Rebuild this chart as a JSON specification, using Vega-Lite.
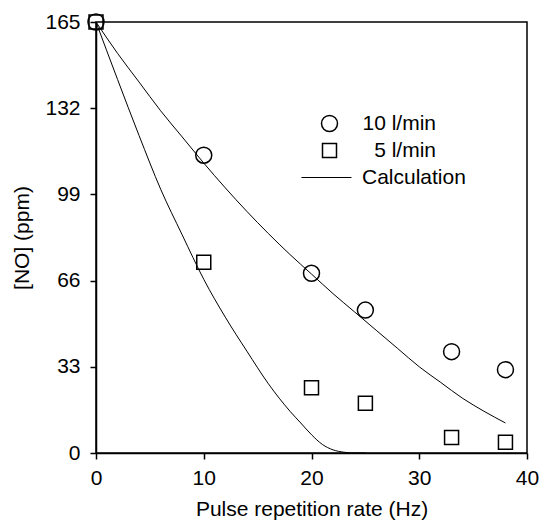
{
  "$schema": "https://vega.github.io/schema/vega-lite/v6.json",
  "width": 431,
  "height": 431,
  "autosize": {"type": "none"},
  "padding": {"left": 96, "top": 22, "right": 12, "bottom": 72},
  "background": "white",
  "config": {
    "view": {"stroke": "black", "strokeWidth": 1.5},
    "font": "Liberation Sans",
    "axis": {
      "domainColor": "black", "domainWidth": 1.5,
      "tickColor": "black", "tickWidth": 1.5, "tickSize": 6,
      "labelFont": "Liberation Sans", "labelFontSize": 21, "labelColor": "black", "labelFlush": false,
      "titleFont": "Liberation Sans", "titleFontSize": 21, "titleFontWeight": "normal", "titleColor": "black",
      "grid": false
    },
    "legend": {
      "labelFont": "Liberation Sans", "labelFontSize": 21, "labelColor": "black"
    }
  },
  "datasets": {
    "points": [
      {"rate": 0, "no": 165, "series": "10 l/min"},
      {"rate": 10, "no": 114, "series": "10 l/min"},
      {"rate": 20, "no": 68.8, "series": "10 l/min"},
      {"rate": 25, "no": 54.7, "series": "10 l/min"},
      {"rate": 33, "no": 38.8, "series": "10 l/min"},
      {"rate": 38, "no": 31.9, "series": "10 l/min"},
      {"rate": 0, "no": 165, "series": "5 l/min"},
      {"rate": 10, "no": 73, "series": "5 l/min"},
      {"rate": 20, "no": 25, "series": "5 l/min"},
      {"rate": 25, "no": 19, "series": "5 l/min"},
      {"rate": 33, "no": 5.9, "series": "5 l/min"},
      {"rate": 38, "no": 4.1, "series": "5 l/min"}
    ],
    "curves": [
      {"rate": 0, "no": 165, "curve": "10 l/min"},
      {"rate": 2, "no": 153, "curve": "10 l/min"},
      {"rate": 4, "no": 142, "curve": "10 l/min"},
      {"rate": 6, "no": 131, "curve": "10 l/min"},
      {"rate": 8, "no": 121, "curve": "10 l/min"},
      {"rate": 10, "no": 111, "curve": "10 l/min"},
      {"rate": 12, "no": 101.5, "curve": "10 l/min"},
      {"rate": 14, "no": 92.5, "curve": "10 l/min"},
      {"rate": 16, "no": 84, "curve": "10 l/min"},
      {"rate": 18, "no": 76, "curve": "10 l/min"},
      {"rate": 20, "no": 68.5, "curve": "10 l/min"},
      {"rate": 22, "no": 61, "curve": "10 l/min"},
      {"rate": 24, "no": 54, "curve": "10 l/min"},
      {"rate": 26, "no": 47, "curve": "10 l/min"},
      {"rate": 28, "no": 40, "curve": "10 l/min"},
      {"rate": 30, "no": 33, "curve": "10 l/min"},
      {"rate": 32, "no": 27, "curve": "10 l/min"},
      {"rate": 34, "no": 21, "curve": "10 l/min"},
      {"rate": 36, "no": 16, "curve": "10 l/min"},
      {"rate": 38, "no": 11.5, "curve": "10 l/min"},
      {"rate": 0, "no": 165, "curve": "5 l/min"},
      {"rate": 2, "no": 143, "curve": "5 l/min"},
      {"rate": 4, "no": 121.5, "curve": "5 l/min"},
      {"rate": 6, "no": 101, "curve": "5 l/min"},
      {"rate": 8, "no": 83.5, "curve": "5 l/min"},
      {"rate": 10, "no": 66.5, "curve": "5 l/min"},
      {"rate": 12, "no": 52, "curve": "5 l/min"},
      {"rate": 14, "no": 39, "curve": "5 l/min"},
      {"rate": 16, "no": 26.5, "curve": "5 l/min"},
      {"rate": 18, "no": 16, "curve": "5 l/min"},
      {"rate": 19, "no": 11.5, "curve": "5 l/min"},
      {"rate": 20, "no": 7, "curve": "5 l/min"},
      {"rate": 21, "no": 3.3, "curve": "5 l/min"},
      {"rate": 22, "no": 1.2, "curve": "5 l/min"},
      {"rate": 23, "no": 0.3, "curve": "5 l/min"},
      {"rate": 24, "no": 0, "curve": "5 l/min"},
      {"rate": 25, "no": 0, "curve": "5 l/min"}
    ]
  },
  "encoding": {
    "x": {
      "field": "rate", "type": "quantitative",
      "scale": {"domain": [0, 40], "nice": false, "zero": false},
      "axis": {"values": [0, 10, 20, 30, 40], "title": "Pulse repetition rate (Hz)", "labelPadding": 8, "titlePadding": 10}
    },
    "y": {
      "field": "no", "type": "quantitative",
      "scale": {"domain": [0, 165], "nice": false},
      "axis": {"values": [0, 33, 66, 99, 132, 165], "title": "[NO] (ppm)", "labelPadding": 10, "titlePadding": 12}
    }
  },
  "layer": [
    {
      "data": {"name": "curves"},
      "mark": {"type": "line", "strokeWidth": 1, "interpolate": "monotone"},
      "encoding": {
        "detail": {"field": "curve", "type": "nominal"},
        "color": {
          "datum": "Calculation",
          "scale": {"domain": ["Calculation"], "range": ["black"]},
          "legend": {
            "title": null, "orient": "none", "legendX": 205, "legendY": 130,
            "padding": 0, "symbolType": "stroke", "symbolSize": 2500, "symbolStrokeWidth": 1,
            "labelOffset": 10
          }
        }
      }
    },
    {
      "data": {"name": "points"},
      "mark": {"type": "point", "filled": false, "color": "black", "strokeWidth": 1.5, "opacity": 1, "clip": false},
      "encoding": {
        "shape": {
          "field": "series", "type": "nominal",
          "scale": {"domain": ["10 l/min", "5 l/min"], "range": ["circle", "square"]},
          "legend": {
            "title": null, "orient": "none", "legendX": 223, "legendY": 91,
            "padding": 0, "symbolStrokeWidth": 1.5, "symbolStrokeColor": "black",
            "symbolFillColor": "transparent", "labelOffset": 96, "labelAlign": "right", "rowPadding": 4
          }
        },
        "size": {
          "field": "series", "type": "nominal",
          "scale": {"type": "ordinal", "domain": ["10 l/min", "5 l/min"], "range": [256, 196]},
          "legend": {
            "title": null, "orient": "none", "legendX": 223, "legendY": 91,
            "padding": 0, "symbolStrokeWidth": 1.5, "symbolStrokeColor": "black",
            "symbolFillColor": "transparent", "labelOffset": 96, "labelAlign": "right", "rowPadding": 4
          }
        }
      }
    }
  ]
}
